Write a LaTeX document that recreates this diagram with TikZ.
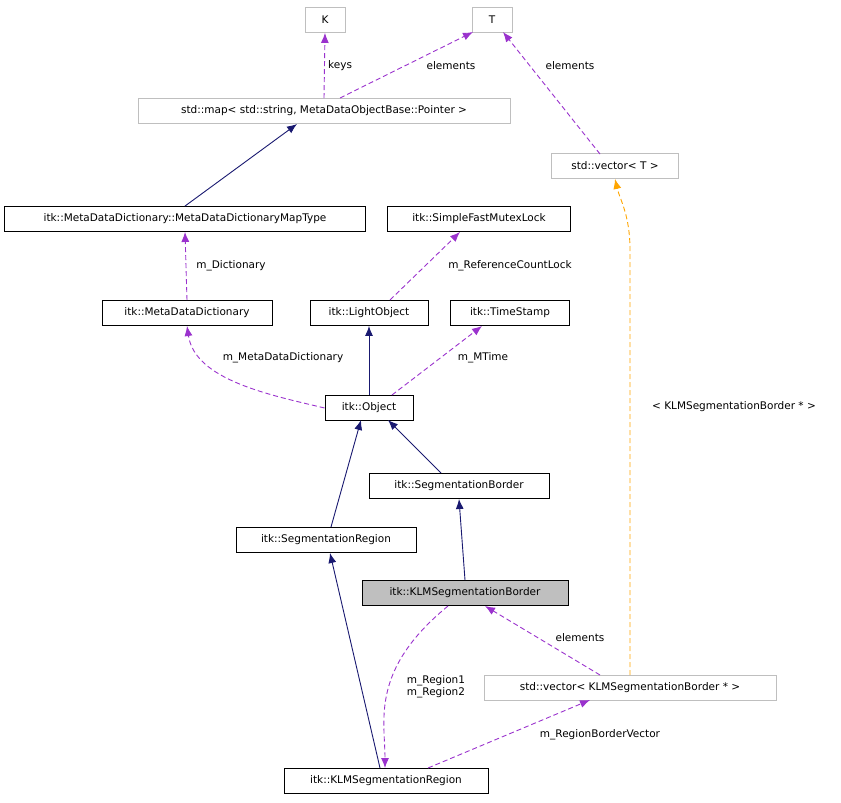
\documentclass[tikz,border=0pt]{standalone}
\usepackage{fontspec}
\setmainfont{DejaVu Sans}
\usetikzlibrary{arrows.meta}
\definecolor{navy}{RGB}{25, 25, 112}
\definecolor{violet}{RGB}{154, 50, 205}
\definecolor{orng}{RGB}{255, 165, 0}
\definecolor{boxgray}{RGB}{191, 191, 191}

\begin{document}
\begin{tikzpicture}[x=1pt, y=-1pt,
    cls/.style={draw=black, fill=white, line width=0.9pt, inner sep=0pt, minimum height=25pt, font=\fontsize{10.5}{12}\selectfont},
    ext/.style={cls, draw=boxgray},
    inh/.style={navy, line width=0.9pt, -{Latex[length=10pt, width=8pt]}},
    use/.style={violet, line width=0.9pt, dash pattern=on 5pt off 3pt, -{Latex[length=10pt, width=8pt]}},
    tpl/.style={orng, line width=0.9pt, dash pattern=on 5pt off 3pt, -{Latex[length=10pt, width=8pt]}},
    lbl/.style={text=black, font=\fontsize{10.5}{12}\selectfont, inner sep=1pt}]
  \useasboundingbox (0, 0) rectangle (841, 803);

  % classes
  \node[ext, minimum width=40pt] (k) at (325, 20) {K};
  \node[ext, minimum width=40pt] (t) at (492, 20) {T};
  \node[ext, minimum width=372pt] (map) at (324, 111) {std::map< std::string, MetaDataObjectBase::Pointer >};
  \node[ext, minimum width=127pt] (vect) at (615, 166) {std::vector< T >};
  \node[cls, minimum width=361pt] (maptype) at (185, 219) {itk::MetaDataDictionary::MetaDataDictionaryMapType};
  \node[cls, minimum width=183pt] (lock) at (479, 219) {itk::SimpleFastMutexLock};
  \node[cls, minimum width=170pt] (dict) at (187, 313) {itk::MetaDataDictionary};
  \node[cls, minimum width=118pt] (light) at (369, 313) {itk::LightObject};
  \node[cls, minimum width=119pt] (stamp) at (510, 313) {itk::TimeStamp};
  \node[cls, minimum width=88pt] (obj) at (369, 408) {itk::Object};
  \node[cls, minimum width=180pt] (segb) at (459, 486) {itk::SegmentationBorder};
  \node[cls, minimum width=180pt] (segr) at (326, 540) {itk::SegmentationRegion};
  \node[cls, minimum width=206pt, fill=boxgray] (klmb) at (465, 593) {itk::KLMSegmentationBorder};
  \node[ext, minimum width=292pt] (vecklm) at (630, 688) {std::vector< KLMSegmentationBorder * >};
  \node[cls, minimum width=204pt] (klmr) at (386, 781) {itk::KLMSegmentationRegion};

  % inheritance
  \draw[inh] (maptype.north) -- (297, 124);
  \draw[inh] (obj.north) -- (light.south);
  \draw[inh] (441, 473) -- (388, 420);
  \draw[inh] (331, 527) -- (361, 420);
  \draw[inh] (klmb.north) -- (459, 499);
  \draw[inh] (380, 768) -- (330, 553);

  % usage
  \draw[use] (map.north) -- (k.south);
  \node[lbl, anchor=west] (lkeys) at (327, 66) {keys};
  \draw[use] (340, 98) -- (473, 32);
  \node[lbl] (lel1) at (451, 66) {elements};
  \draw[use] (600, 154) -- (503, 32);
  \node[lbl] (lel2) at (570, 66) {elements};
  \draw[use] (dict.north) -- (maptype.south);
  \node[lbl] (ldict) at (231, 266) {m\_Dictionary};
  \draw[use] (390, 300) -- (460, 232);
  \node[lbl] (llock) at (510, 266) {m\_ReferenceCountLock};
  \draw[use] (obj.west) .. controls (270, 395) and (195, 380) .. (187, 326);
  \node[lbl] (lmeta) at (283, 358) {m\_MetaDataDictionary};
  \draw[use] (392, 395) -- (482, 326);
  \node[lbl] (lmtime) at (483, 358) {m\_MTime};
  \draw[use] (600, 675) -- (485, 606);
  \node[lbl] (lel3) at (580, 638) {elements};
  \draw[use] (448, 606) .. controls (370, 670) and (385, 720) .. (385, 768);
  \node[lbl, align=left] (lreg) at (436, 687) {m\_Region1\\m\_Region2};
  \draw[use] (428, 768) -- (590, 700);
  \node[lbl] (lvec) at (600, 735) {m\_RegionBorderVector};

  % template
  \draw[tpl] (630, 675) -- (630, 250) .. controls (630, 215) and (620, 200) .. (vect.south);
  \node[lbl] (ltpl) at (734, 407) {< KLMSegmentationBorder * >};
\end{tikzpicture}
\end{document}
